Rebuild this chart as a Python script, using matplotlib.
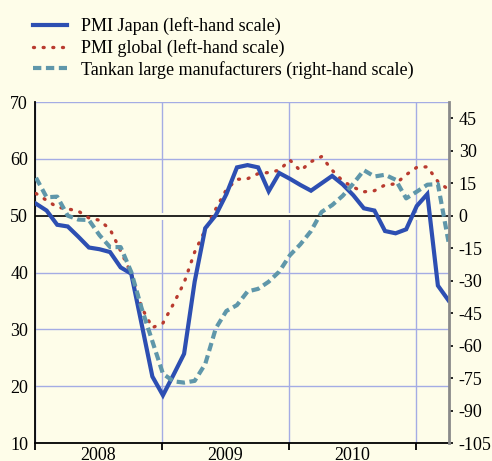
import numpy as np
import matplotlib
matplotlib.use("Agg")
import matplotlib.pyplot as plt

# monthly, Jan 2008 - Apr 2011
pmi_japan = [52.1, 50.9, 48.4, 48.1, 46.3, 44.4, 44.1, 43.6, 40.9, 39.8,
             30.8, 21.7, 18.4, 22.0, 25.7, 38.4, 47.8, 50.1, 53.8, 58.5,
             58.9, 58.5, 54.3, 57.5, 56.5, 55.4, 54.4, 55.7, 57.0, 55.5,
             53.6, 51.3, 50.9, 47.3, 46.9, 47.6, 51.7, 53.8, 37.7, 35.1]

pmi_global = [53.9, 52.7, 51.5, 51.2, 50.8, 49.6, 49.2, 47.6, 43.8, 39.8,
              33.8, 30.3, 31.1, 34.5, 38.2, 43.6, 47.5, 51.2, 54.6, 56.4,
              56.5, 57.4, 57.6, 58.0, 59.8, 57.9, 59.5, 60.4, 58.0, 56.1,
              55.0, 54.2, 54.4, 55.4, 55.6, 57.2, 58.5, 58.6, 56.0, 54.6]

tankan = [17.5, 8.5, 8.8, 0.0, -1.8, -2.0, -9.0, -14.5, -14.5, -26.0,
          -43.0, -58.0, -73.0, -76.5, -77.1, -76.3, -68.5, -52.0, -44.0, -41.3,
          -35.0, -33.8, -30.5, -25.8, -18.3, -13.2, -7.1, 1.7, 4.9, 9.2,
          14.8, 21.0, 18.1, 18.9, 16.6, 8.0, 11.1, 14.3, 14.6, -12.0]

years = ["2008", "2009", "2010"]
left_ticks = [10, 20, 30, 40, 50, 60, 70]
right_ticks = [-105, -90, -75, -60, -45, -30, -15, 0, 15, 30, 45]

labels = ["PMI Japan (left-hand scale)",
          "PMI global (left-hand scale)",
          "Tankan large manufacturers (right-hand scale)"]

plt.rcParams["font.family"] = ["Liberation Serif", "DejaVu Serif"]
plt.rcParams["font.size"] = 13

bg = "#fefde9"
grid_col = "#a4ace4"

fig = plt.figure(figsize=(4.92, 4.61), dpi=100, facecolor=bg)
ax = fig.add_axes([0.0711, 0.039, 0.8415, 0.7397])
ax.set_facecolor(bg)
ax.set_axisbelow(True)
ax2 = ax.twinx()

x = np.arange(len(pmi_japan)) + 0.1

# gridlines + zero line with a halo
ax.set_yticks(left_ticks)
ax.set_xticks([0, 12, 24, 36])
ax.grid(True, color=grid_col, linewidth=1.0)
ax.axhline(50, color=bg, linewidth=5, zorder=1.8)
ax.axhline(50, color="black", linewidth=1.2, zorder=1.9)

l1, = ax.plot(x, pmi_japan, color="#2d4fb2", linewidth=3.0,
              solid_joinstyle="miter", zorder=4)
l2, = ax.plot(x, pmi_global, color="#b93b2f", linewidth=2.4,
              linestyle=(0, (0.3, 2.6)), dash_capstyle="round", zorder=3)
l3, = ax2.plot(x, tankan, color="#5f97aa", linewidth=3.0,
               linestyle=(0, (2.0, 1.1)), zorder=2)

ax.set_xlim(0, 39.15)
ax.set_ylim(10, 70)
ax2.set_ylim(-105, 52.5)
ax2.set_yticks(right_ticks)
ax2.set_yticklabels([str(v) for v in right_ticks])

# x axis: ticks at year boundaries, labels centred in each year
ax.set_xticks([6, 18, 30], minor=True)
ax.set_xticklabels([])
ax.set_xticklabels(years, minor=True)
ax.tick_params(axis="x", which="major", direction="out", length=5,
               width=1.3, color="black")
ax.tick_params(axis="x", which="minor", length=0, pad=3)
ax.tick_params(axis="y", length=0, pad=5)
ax2.tick_params(axis="y", direction="out", length=3, width=1.2,
                color="black", pad=4)

for s in ["top", "right"]:
    ax.spines[s].set_visible(False)
ax.spines["left"].set_linewidth(1.3)
ax.spines["bottom"].set_linewidth(1.3)
for s in ["top", "left", "bottom"]:
    ax2.spines[s].set_visible(False)
ax2.spines["right"].set_color("#8a8a8a")
ax2.spines["right"].set_linewidth(2)

fig.legend([l1, l2, l3], labels, loc="upper left",
           bbox_to_anchor=(0.067, 0.962), frameon=False, borderpad=0,
           borderaxespad=0, handlelength=1.9, handletextpad=0.75,
           labelspacing=0.2, fontsize=13)

fig.savefig("out.png", dpi=100, facecolor=bg)
